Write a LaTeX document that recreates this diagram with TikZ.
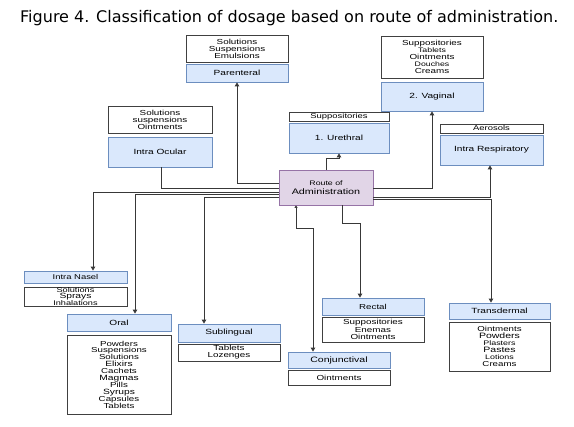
\documentclass[tikz,border=0pt]{standalone}
\usepackage{fontspec}
\setmainfont{Liberation Sans}[FakeStretch=1.35]
\newfontfamily\titlefont{DejaVu Sans}
\usetikzlibrary{arrows.meta}
\definecolor{bluefill}{HTML}{DAE8FC}
\definecolor{blueline}{HTML}{6C8EBF}
\definecolor{purfill}{HTML}{E1D5E7}
\definecolor{purline}{HTML}{9673A6}
\tikzset{
  box/.style={rectangle, inner sep=0pt, align=center, minimum width=#1},
  bluebox/.style={box=#1, fill=bluefill, draw=blueline, line width=0.8pt},
  listbox/.style={box=#1, fill=white, draw=black!75, line width=0.8pt},
  routebox/.style={box=#1, fill=purfill, draw=purline, line width=0.8pt},
  lst/.style={font=\fontsize{7.3}{7.1}\selectfont},
  lbl/.style={font=\fontsize{7.5}{8.5}\selectfont},
  wire/.style={draw=black!78, line width=0.9pt},
  conn/.style={wire, -{Triangle[length=4pt,width=4.5pt]}},
}
\begin{document}
\begin{tikzpicture}[x=1pt,y=-1pt]
\useasboundingbox (0,0) rectangle (574,427);
\fill[white] (0,0) rectangle (574,427);
% title
\node[anchor=base west, inner sep=0pt, font=\titlefont\fontsize{16}{18}\selectfont] (title) at (20,23) {Figure 4. Classification of dosage based on route of administration.};
% route
\node[routebox=94pt, minimum height=35pt, font=\fontsize{6.5}{8.5}\selectfont] (route) at (326,187.5) {Route of\\{\fontsize{8}{9}\selectfont Administration}};
% parenteral
\node[listbox=102pt, minimum height=27pt, lst] (parl) at (237,48.5) {Solutions\\Suspensions\\Emulsions};
\node[bluebox=102pt, minimum height=18pt, lbl] (parb) at (237,73) {Parenteral};
% intra ocular
\node[listbox=104pt, minimum height=27pt, lst] (ocul) at (160,119.5) {Solutions\\suspensions\\Ointments};
\node[bluebox=104pt, minimum height=30pt, lbl] (ocub) at (160,152) {Intra Ocular};
% urethral
\node[listbox=100pt, minimum height=9pt, font=\fontsize{7}{7}\selectfont] (url) at (339,116.5) {Suppositories};
\node[bluebox=100pt, minimum height=30pt, lbl] (urb) at (339,138) {1. Urethral};
% vaginal
\node[listbox=102pt, minimum height=42pt, lst] (vagl) at (432,57) {Suppositories\\{\fontsize{6.5}{7}\selectfont Tablets}\\Ointments\\{\fontsize{6.5}{7}\selectfont Douches}\\Creams};
\node[bluebox=102pt, minimum height=29pt, lbl] (vagb) at (432,96.5) {2. Vaginal};
% intra respiratory
\node[listbox=103pt, minimum height=9pt, font=\fontsize{7}{7}\selectfont] (resl) at (491.5,128.5) {Aerosols};
\node[bluebox=103pt, minimum height=30pt, lbl] (resb) at (491.5,150) {Intra Respiratory};
% intra nasel
\node[bluebox=103pt, minimum height=12pt, font=\fontsize{7}{7.5}\selectfont] (nasb) at (75.5,277) {Intra Nasel};
\node[listbox=103pt, minimum height=19pt, font=\fontsize{6.8}{6.2}\selectfont] (nasl) at (75.5,296.5) {Solutions\\{\fontsize{7.6}{6.2}\selectfont Sprays}\\Inhalations};
% oral
\node[bluebox=104pt, minimum height=17pt, lbl] (oralb) at (119,322.5) {Oral};
\node[listbox=104pt, minimum height=79pt, font=\fontsize{7.2}{6.9}\selectfont] (orall) at (119,374.5) {Powders\\Suspensions\\Solutions\\{\fontsize{7.6}{6.9}\selectfont Elixirs}\\Cachets\\{\fontsize{7.6}{6.9}\selectfont Magmas}\\Pills\\{\fontsize{7.6}{6.9}\selectfont Syrups}\\Capsules\\Tablets};
% sublingual
\node[bluebox=102pt, minimum height=18pt, lbl] (subb) at (229,333) {Sublingual};
\node[listbox=102pt, minimum height=17pt, font=\fontsize{7.3}{7.2}\selectfont] (subl) at (229,352.5) {Tablets\\Lozenges};
% rectal
\node[bluebox=102pt, minimum height=17pt, font=\fontsize{7.2}{8}\selectfont] (rectb) at (373,306.5) {Rectal};
\node[listbox=102pt, minimum height=25pt, font=\fontsize{7.3}{7.2}\selectfont] (rectl) at (373,329.5) {Suppositories\\Enemas\\Ointments};
% conjunctival
\node[bluebox=102pt, minimum height=16pt, font=\fontsize{7.8}{9}\selectfont] (conjb) at (339,360) {Conjunctival};
\node[listbox=102pt, minimum height=15pt, font=\fontsize{7.3}{8}\selectfont] (conjl) at (339,377.5) {Ointments};
% transdermal
\node[bluebox=101pt, minimum height=16pt, font=\fontsize{7.5}{9}\selectfont] (trab) at (499.5,311) {Transdermal};
\node[listbox=101pt, minimum height=49pt, font=\fontsize{7.2}{7.1}\selectfont] (tral) at (499.5,346.5) {Ointments\\{\fontsize{7.8}{7.1}\selectfont Powders}\\{\fontsize{6.6}{7.1}\selectfont Plasters}\\{\fontsize{7.8}{7.1}\selectfont Pastes}\\{\fontsize{6.6}{7.1}\selectfont Lotions}\\Creams};
% connectors
\draw[wire] ([xshift=1pt]ocub.south) |- ([yshift=-0.5pt]route.west);
\draw[conn] ([yshift=4.5pt]route.west) -| (parb.south);
\draw[conn] ([yshift=-4.5pt]route.west) -| ([xshift=17.5pt]nasb.north);
\draw[conn] ([yshift=-6.5pt]route.west) -| ([xshift=16pt]oralb.north);
\draw[conn] ([yshift=-9.5pt]route.west) -| ([xshift=-25pt]subb.north);
\draw[conn] ([yshift=-0.5pt]route.east) -| (vagb.south);
\draw[conn] ([yshift=-9.5pt]route.east) -| ([xshift=-1.5pt]resb.south);
\draw[conn] ([yshift=-11.5pt]route.east) -| ([xshift=-8.5pt]trab.north);
\draw[conn] (route.north) -- ++(0,-11) -| (urb.south);
\draw[wire, {Triangle[length=2.5pt,width=3pt]}-{Triangle[length=4pt,width=4.5pt]}] ([xshift=-30pt]route.south) -- ++(0,23) -| ([xshift=-26pt]conjb.north);
\draw[conn] ([xshift=16pt]route.south) -- ++(0,18) -| ([xshift=-13pt]rectb.north);
\end{tikzpicture}
\end{document}
